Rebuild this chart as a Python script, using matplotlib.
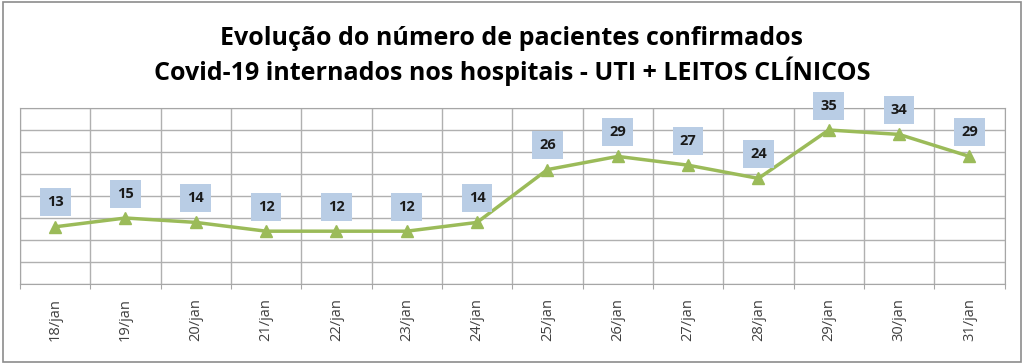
import matplotlib.pyplot as plt
from matplotlib.patches import Rectangle

dias = ['18/jan', '19/jan', '20/jan', '21/jan', '22/jan', '23/jan', '24/jan',
        '25/jan', '26/jan', '27/jan', '28/jan', '29/jan', '30/jan', '31/jan']
pacientes = [13, 15, 14, 12, 12, 12, 14, 26, 29, 27, 24, 35, 34, 29]
titulo = ('Evolução do número de pacientes confirmados\n'
          'Covid-19 internados nos hospitais - UTI + LEITOS CLÍNICOS')

plt.rcParams['font.family'] = ['Open Sans', 'DejaVu Sans']

fig = plt.figure(figsize=(10.24, 3.64), dpi=100)
ax = fig.add_axes([0.0195, 0.2198, 0.9615, 0.4835])

n = len(dias)
xs = list(range(n))
ax.plot(xs, pacientes, color='#9BBB59', linewidth=2.5, marker='^',
        markersize=9, zorder=3)

for x, v in zip(xs, pacientes):
    ax.annotate(str(v), (x, v), xytext=(0, 17.5), textcoords='offset points',
                ha='center', va='center', fontsize=10.5, fontweight='bold',
                color='#1a1a1a',
                bbox=dict(boxstyle='square,pad=0.48', fc='#B9CDE5', ec='none'),
                zorder=4)

ax.set_xlim(-0.5, n - 0.5)
ax.set_ylim(0, 40)
ax.set_yticks(range(0, 41, 5))
ax.set_yticklabels([])
ax.tick_params(axis='y', length=0)

ax.set_xticks([i - 0.5 for i in range(n + 1)], minor=False)
ax.set_xticklabels([])
ax.tick_params(axis='x', which='major', length=3.5, color='#A6A6A6')
ax.set_xticks(xs, minor=True)
ax.set_xticklabels(dias, minor=True, rotation=90, fontsize=10.5, color='#404040')
ax.tick_params(axis='x', which='minor', length=0, pad=10)

ax.grid(True, which='major', color='#B0B0B0', linewidth=1)
ax.set_axisbelow(True)
for s in ax.spines.values():
    s.set_color('#A6A6A6')

fig.text(0.5, 0.846, titulo, ha='center', va='center', fontsize=18,
         fontweight='bold', color='#000000', linespacing=1.2)

fig.patches.append(Rectangle((0.003, 0.006), 0.994, 0.988, transform=fig.transFigure,
                             fill=False, ec='#8C8C8C', lw=1.2))

fig.savefig('out.png', dpi=100)
